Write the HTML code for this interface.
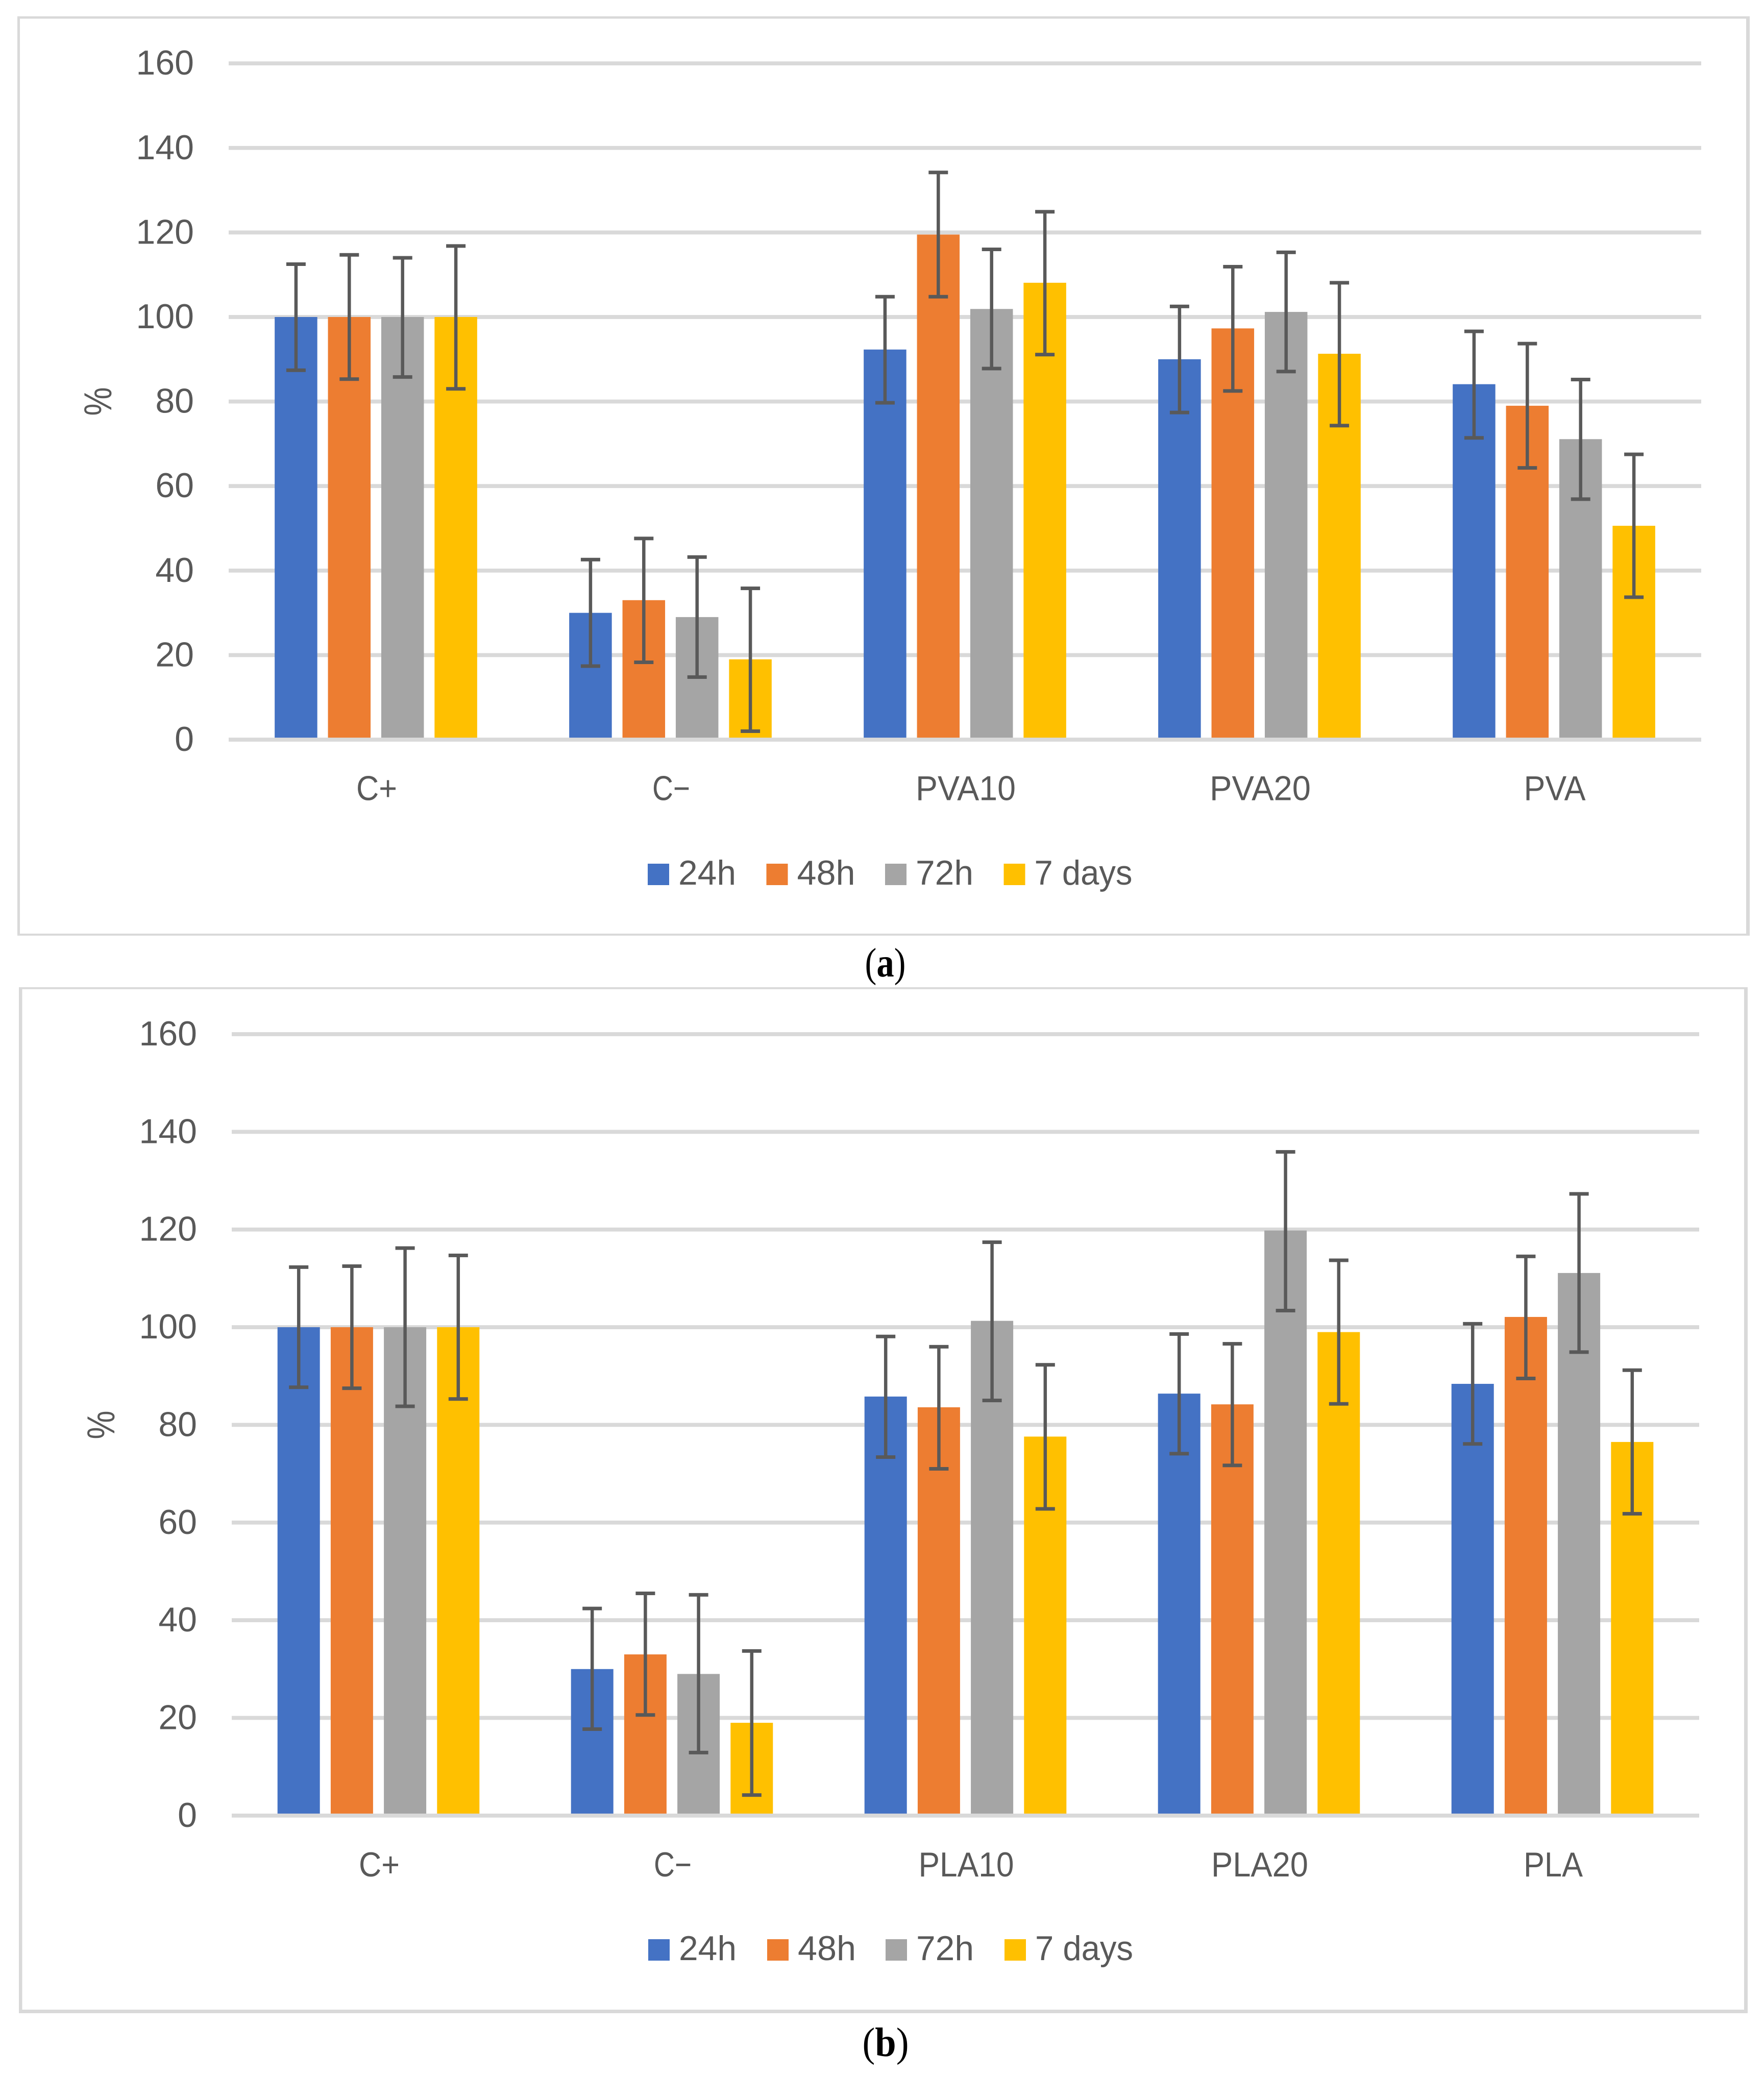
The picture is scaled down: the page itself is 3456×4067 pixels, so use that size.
<!DOCTYPE html>
<html lang="en">
<head>
<meta charset="utf-8">
<title>Cell viability bar charts</title>
<style>
html,body{margin:0;padding:0;background:#fff;}
svg{display:block;}
text{font-family:"Liberation Sans",Arial,sans-serif;fill:#595959;}
.cap{font-family:"Liberation Serif","Times New Roman",serif;fill:#000;}
</style>
</head>
<body>
<svg id="figure" xmlns="http://www.w3.org/2000/svg" width="3456" height="4067" viewBox="0 0 3456 4067">
<rect x="0" y="0" width="3456" height="4067" fill="#ffffff"/>
</svg>
<script>
// ---- shared data ----
const seriesNames = ['24h', '48h', '72h', '7 days'];
const yTicks = [0, 20, 40, 60, 80, 100, 120, 140, 160];

// ---- panel (a) data ----
const categoriesA = ['C+', 'C\u2212', 'PVA10', 'PVA20', 'PVA'];
const a24h = [100, 30, 92.3, 90, 84.1];
const a48h = [100, 33, 119.5, 97.3, 79];
const a72h = [100, 29, 101.9, 101.2, 71.1];
const a7d = [100, 19, 108.1, 91.3, 50.6];
const aHigh24h = [112.5, 42.6, 104.8, 102.5, 96.6];
const aHigh48h = [114.7, 47.6, 134.2, 111.9, 93.7];
const aHigh72h = [114, 43.2, 116, 115.3, 85.2];
const aHigh7d = [116.8, 35.8, 124.9, 108.1, 67.5];
const aLow24h = [87.4, 17.4, 79.7, 77.4, 71.4];
const aLow48h = [85.3, 18.3, 104.8, 82.5, 64.3];
const aLow72h = [85.8, 14.8, 87.8, 87.1, 56.9];
const aLow7d = [83, 2, 91.1, 74.3, 33.7];

// ---- panel (b) data ----
const categoriesB = ['C+', 'C\u2212', 'PLA10', 'PLA20', 'PLA'];
const b24h = [100, 30, 85.8, 86.4, 88.4];
const b48h = [100, 33, 83.6, 84.2, 102.1];
const b72h = [100, 29, 101.3, 119.8, 111.1];
const b7d = [100, 19, 77.6, 99, 76.5];
const bHigh24h = [112.3, 42.4, 98.1, 98.6, 100.7];
const bHigh48h = [112.5, 45.5, 96, 96.6, 114.5];
const bHigh72h = [116.2, 45.2, 117.4, 135.9, 127.3];
const bHigh7d = [114.7, 33.7, 92.3, 113.7, 91.2];
const bLow24h = [87.7, 17.7, 73.4, 74.1, 76.1];
const bLow48h = [87.5, 20.6, 71, 71.7, 89.5];
const bLow72h = [83.8, 12.9, 85, 103.4, 94.9];
const bLow7d = [85.3, 4.2, 62.8, 84.3, 61.8];

// ---- styles ----
const seriesColors = ['#4472C4', '#ED7D31', '#A5A5A5', '#FFC000'];
const gridColor = '#D9D9D9';
const errColor = '#595959';
const labelWidths = {'C+': 80, 'C\u2212': 74, 'PVA10': 196, 'PVA20': 198, 'PVA': 121, 'PLA10': 187, 'PLA20': 190, 'PLA': 116};
const legendWidths = {'24h': 113, '48h': 114, '72h': 113, '7 days': 192};

const svgNS = 'http://www.w3.org/2000/svg';
const root = document.getElementById('figure');

function make(parent, tag, props, content) {
  const el = document.createElementNS(svgNS, tag);
  for (const k in props) el.setAttribute(k, props[k]);
  if (content !== undefined) el.textContent = content;
  parent.appendChild(el);
  return el;
}
function slug(s) {
  return String(s).toLowerCase().replace('+', '-plus').replace('\u2212', '-minus').replace(/\s+/g, '-');
}

function drawPanel(p) {
  const g = make(root, 'g', {});
  
  

  // frame
  const frame = make(g, 'g', {fill: gridColor});
  
  
  make(frame, 'rect', {x: p.frame.l0, y: p.frame.t0, width: p.frame.r1 - p.frame.l0, height: p.frame.t1 - p.frame.t0});
  make(frame, 'rect', {x: p.frame.l0, y: p.frame.b0, width: p.frame.r1 - p.frame.l0, height: p.frame.b1 - p.frame.b0});
  make(frame, 'rect', {x: p.frame.l0, y: p.frame.t0, width: p.frame.l1 - p.frame.l0, height: p.frame.b1 - p.frame.t0});
  make(frame, 'rect', {x: p.frame.r0, y: p.frame.t0, width: p.frame.r1 - p.frame.r0, height: p.frame.b1 - p.frame.t0});

  // axis functions
  const yScale = v => p.zeroY - v * p.unit;
  const band = (p.plotRight - p.plotLeft) / p.categories.length;
  const groupWidth = p.pitch * (p.values.length - 1) + p.barW;
  const xScale = (c, s) => p.plotLeft + band * c + (band - groupWidth) / 2 + p.pitch * s;

  // gridlines and tick labels
  yTicks.forEach(t => {
    if (t !== 0) {
      const line = make(g, 'rect', {x: p.plotLeft, y: yScale(t) - p.gridT / 2, width: p.plotRight - p.plotLeft, height: p.gridT, fill: gridColor});
      
      
    }
    const lab = make(g, 'text', {x: p.tickX, y: yScale(t) + 22, 'font-size': 68, 'text-anchor': 'end'}, String(t));
    
    
  });

  // bars
  p.values.forEach((vals, s) => {
    vals.forEach((v, c) => {
      const bar = make(g, 'rect', {x: xScale(c, s), y: yScale(v), width: p.barW, height: yScale(0) - yScale(v), fill: seriesColors[s]});
      
      
    });
  });

  // x axis line
  const axis = make(g, 'rect', {x: p.plotLeft, y: yScale(0) - p.gridT / 2, width: p.plotRight - p.plotLeft, height: p.gridT, fill: gridColor});
  
  

  // error bars
  p.values.forEach((vals, s) => {
    vals.forEach((v, c) => {
      const cx = xScale(c, s) + p.barW / 2;
      const eg = make(g, 'g', {fill: errColor});
      
      
      const hi = yScale(p.highs[s][c]);
      const lo = yScale(p.lows[s][c]);
      make(eg, 'rect', {x: cx - 3.25, y: hi, width: 6.5, height: lo - hi});
      make(eg, 'rect', {x: cx - 19, y: hi - 3.5, width: 38, height: 7});
      make(eg, 'rect', {x: cx - 19, y: lo - 3.5, width: 38, height: 7});
    });
  });

  // category labels
  p.categories.forEach((cat, c) => {
    const lab = make(g, 'text', {x: p.plotLeft + band * (c + 0.5) + 1.5, y: p.catY, 'font-size': 68, 'text-anchor': 'middle', textLength: labelWidths[cat], lengthAdjust: 'spacingAndGlyphs'}, cat);
    
    
  });

  // y axis title
  const title = make(g, 'text', {x: 0, y: 0, 'font-size': 76, 'text-anchor': 'middle', textLength: 56, lengthAdjust: 'spacingAndGlyphs', transform: 'translate(' + p.titleX + ' ' + p.titleY + ') rotate(-90)'}, '%');
  
  

  // legend
  seriesNames.forEach((name, s) => {
    const entry = make(g, 'g', {});
    
    
    const sw = make(entry, 'rect', {x: p.legendX[s], y: p.legendY - 42, width: 42, height: 42, fill: seriesColors[s]});
    
    
    const t = make(entry, 'text', {x: p.legendX[s] + 60, y: p.legendY - 1, 'font-size': 68, textLength: legendWidths[name], lengthAdjust: 'spacingAndGlyphs'}, name);
    
    
  });

  // caption
  const cap = make(root, 'text', {'class': 'cap', x: p.capX, y: p.capY, 'font-size': 80, textLength: p.capW, lengthAdjust: 'spacingAndGlyphs'});
  
  
  make(cap, 'tspan', {}, '(');
  make(cap, 'tspan', {'font-weight': 'bold'}, p.id);
  make(cap, 'tspan', {}, ')');
}

drawPanel({
  id: 'a',
  frame: {l0: 34, l1: 39, r0: 3421, r1: 3428, t0: 32, t1: 36.6, b0: 1829, b1: 1833},
  categories: categoriesA,
  values: [a24h, a48h, a72h, a7d],
  highs: [aHigh24h, aHigh48h, aHigh72h, aHigh7d],
  lows: [aLow24h, aLow48h, aLow72h, aLow7d],
  zeroY: 1449, unit: 8.28, gridT: 7.8,
  plotLeft: 448, plotRight: 3333, pitch: 104.4, barW: 83.5,
  tickX: 380, catY: 1567.5,
  titleX: 218, titleY: 786.5,
  legendX: [1269, 1501.5, 1734, 1966.5], legendY: 1734,
  capX: 1694.5, capY: 1913, capW: 80
});

drawPanel({
  id: 'b',
  frame: {l0: 37, l1: 43.5, r0: 3417, r1: 3424, t0: 1934, t1: 1937.8, b0: 3937, b1: 3944},
  categories: categoriesB,
  values: [b24h, b48h, b72h, b7d],
  highs: [bHigh24h, bHigh48h, bHigh72h, bHigh7d],
  lows: [bLow24h, bLow48h, bLow72h, bLow7d],
  zeroY: 3556.8, unit: 9.5675, gridT: 7.8,
  plotLeft: 454, plotRight: 3329, pitch: 104.2, barW: 83,
  tickX: 386, catY: 3676,
  titleX: 224, titleY: 2791.5,
  legendX: [1270, 1503, 1735, 1968], legendY: 3841,
  capX: 1689.5, capY: 4028, capW: 91
});
</script>
</body>
</html>
